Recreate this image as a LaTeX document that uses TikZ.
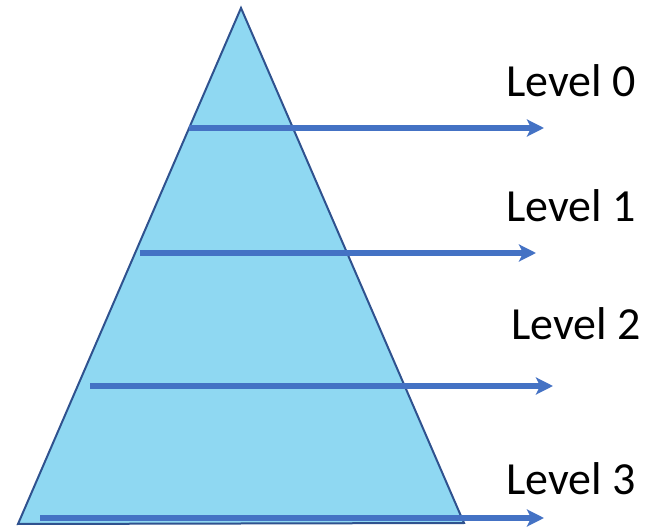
\documentclass[tikz,border=0pt]{standalone}
\usepackage{fontspec}
\setmainfont{Carlito}
\usetikzlibrary{arrows.meta}
\definecolor{trifill}{HTML}{8FD8F2}
\definecolor{triedge}{HTML}{2F528F}
\definecolor{arrowblue}{HTML}{4472C4}
\begin{document}
\begin{tikzpicture}[x=1pt,y=-1pt,
  levelarrow/.style={draw=arrowblue,line width=5.5pt,-{Stealth[length=17pt,width=17pt,inset=4pt]}},
  levellabel/.style={anchor=base west,inner sep=0pt,font=\fontsize{46}{52}\selectfont}]
\useasboundingbox (0,0) rectangle (646,529);
\coordinate (apex) at (241,8);
\coordinate (bl) at (18,524);
\coordinate (br) at (464,523);
\filldraw[fill=trifill,draw=triedge,line width=2pt,line join=miter] (apex) -- (br) -- (bl) -- cycle;
\coordinate (s0) at (189,128); \coordinate (e0) at (544,128);
\coordinate (s1) at (140,253); \coordinate (e1) at (536,253);
\coordinate (s2) at (90,386);  \coordinate (e2) at (553,386);
\coordinate (s3) at (40,518);  \coordinate (e3) at (544,518);
\draw[levelarrow] (s0) -- (e0);
\draw[levelarrow] (s1) -- (e1);
\draw[levelarrow] (s2) -- (e2);
\draw[levelarrow] (s3) -- (e3);
\node[levellabel] (l0) at (506,97) {Level 0};
\node[levellabel] (l1) at (506,222) {Level 1};
\node[levellabel] (l2) at (511,340) {Level 2};
\node[levellabel] (l3) at (506,495) {Level 3};
\end{tikzpicture}
\end{document}
